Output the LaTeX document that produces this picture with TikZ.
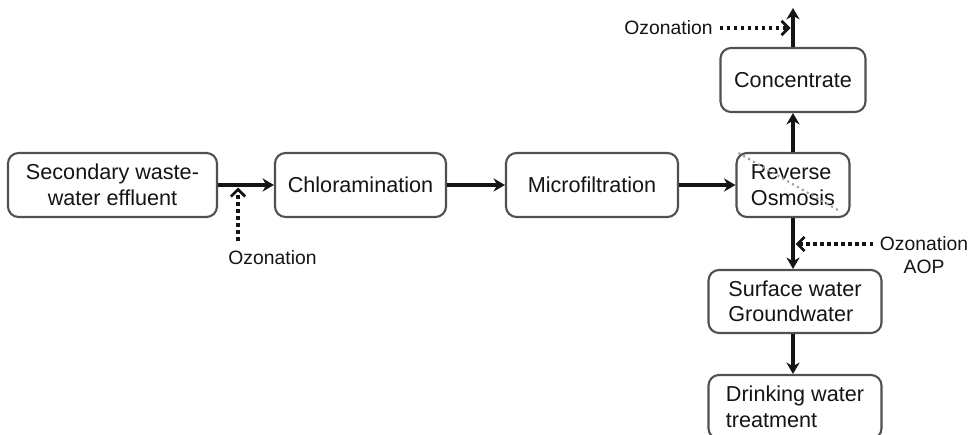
\documentclass[tikz,border=0pt]{standalone}
\usepackage{fontspec}
\setmainfont{Liberation Sans}
\usepackage{xcolor}
\usetikzlibrary{arrows.meta}
\definecolor{flowedge}{RGB}{80, 80, 80}
\definecolor{flowink}{RGB}{20, 20, 20}
\definecolor{flowspeck}{RGB}{160, 160, 160}

\tikzset{
  procbox/.style={draw=flowedge, line width=1.2pt, rounded corners=6pt, fill=white,
    minimum height=1.28cm, inner sep=2pt, text=flowink,
    font=\fontsize{12.3}{14.5}\selectfont},
  flow/.style={draw=flowink, line width=2.2pt, -{Stealth[length=6.5pt,width=7.5pt]}},
  dose/.style={draw=flowink, line width=2pt, dash pattern=on 2pt off 2pt,
    -{Straight Barb[length=4pt,width=8pt,line width=1.6pt]}},
  dosetext/.style={text=flowink, font=\fontsize{11}{13.5}\selectfont, inner sep=1pt}
}

\begin{document}
\begin{tikzpicture}
\useasboundingbox (0,0) rectangle (19.38,-8.70);

% main treatment train
\node[procbox, minimum width=4.18cm, align=center] (secondary) at (2.25,-3.70) {Secondary waste-\\water effluent};
\node[procbox, minimum width=3.42cm] (chloram) at (7.21,-3.70) {Chloramination};
\node[procbox, minimum width=3.44cm] (microfilt) at (11.84,-3.70) {Microfiltration};
\node[procbox, minimum width=2.26cm, align=left] (revosm) at (15.86,-3.70) {Reverse\\Osmosis};

% branches off the RO unit
\node[procbox, minimum width=2.90cm] (concentrate) at (15.86,-1.60) {Concentrate};
\node[procbox, minimum width=3.46cm, minimum height=1.26cm, align=left] (surface) at (15.90,-6.03) {Surface water\\Groundwater};
\node[procbox, minimum width=3.46cm, align=left] (drinking) at (15.90,-8.14) {Drinking water\\treatment};

% stray dotted mark across the RO box
\draw[flowspeck, line width=1.2pt, dotted] ([shift={(0.06,-0.02)}]revosm.north west) -- ([shift={(-0.22,0.14)}]revosm.south east);

\draw[flow] (secondary) -- (chloram);
\draw[flow] (chloram) -- (microfilt);
\draw[flow] (microfilt) -- (revosm);
\draw[flow] (revosm) -- (concentrate);
\draw[flow] (revosm.south) -- (revosm.south |- surface.north);
\draw[flow] (revosm.south |- surface.south) -- (revosm.south |- drinking.north);
\coordinate (outlet) at (15.86,-0.16);
\draw[flow] (concentrate) -- (outlet);

% ozonation dosing points
\node[dosetext] (ozonetop) at (13.37,-0.56) {Ozonation};
\coordinate (ozonetopin) at (15.81,-0.56);
\draw[dose] ([xshift=0.1cm]ozonetop.east) -- (ozonetopin);

\node[dosetext] (ozonepre) at (5.45,-5.16) {Ozonation};
\coordinate (ozoneprestart) at (4.76,-4.82);
\draw[dose] (ozoneprestart) -- ([yshift=-0.05cm]ozoneprestart |- secondary.east);

\node[dosetext, align=center] (ozoneaop) at (18.48,-5.10) {Ozonation\\AOP};
\coordinate (ozoneaopstart) at (17.46,-4.88);
\draw[dose] (ozoneaopstart) -- ([xshift=0.05cm]ozoneaopstart -| revosm.south);
\end{tikzpicture}
\end{document}
